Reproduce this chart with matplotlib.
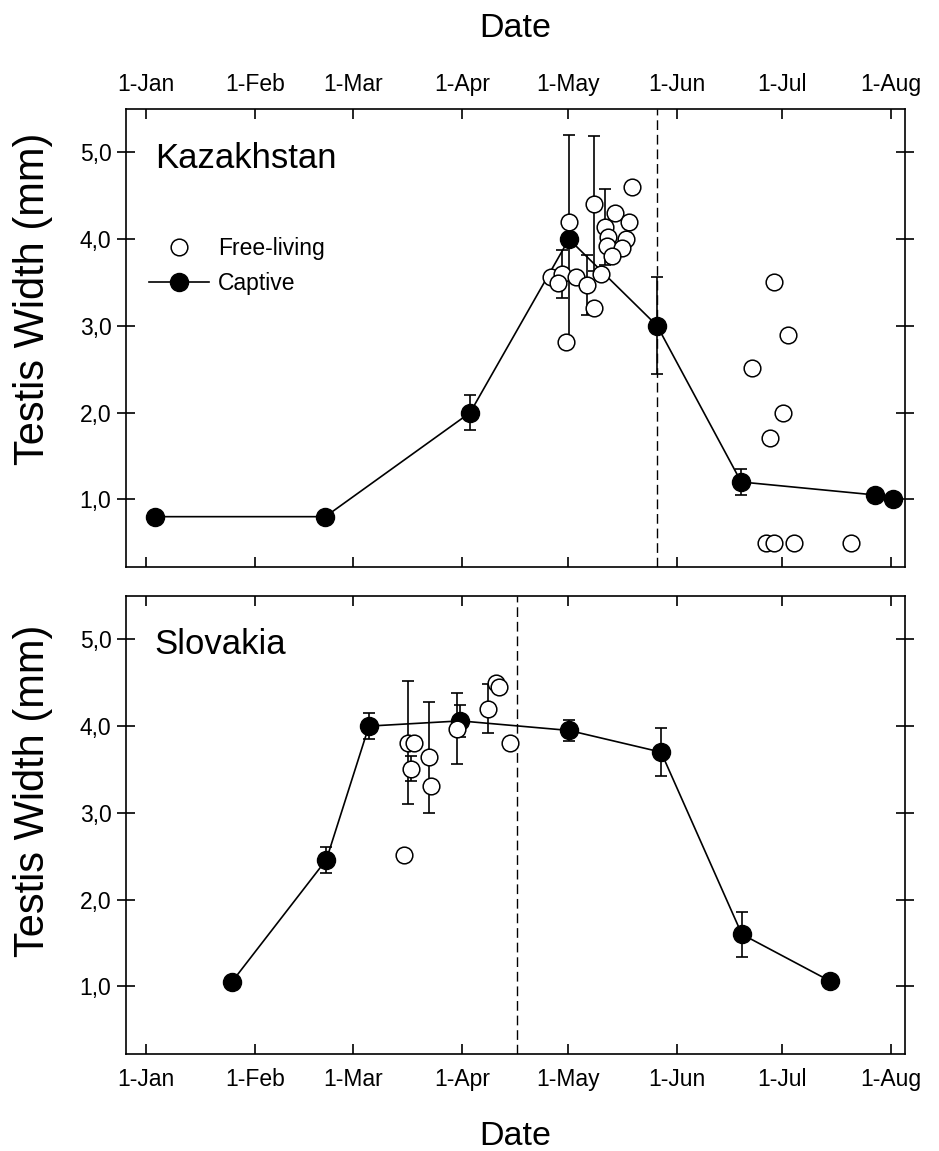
import numpy as np
import matplotlib.pyplot as plt

plt.rcParams['font.family'] = ['Liberation Sans', 'DejaVu Sans']

# days counted from 1-Jan = 0
month_days = [0, 31, 59, 90, 120, 151, 181, 212]
month_labels = ['1-Jan', '1-Feb', '1-Mar', '1-Apr', '1-May', '1-Jun', '1-Jul', '1-Aug']
y_ticks = [1, 2, 3, 4, 5]
y_labels = ['1,0', '2,0', '3,0', '4,0', '5,0']

# Kazakhstan - captive birds (mean +- error)
kz_cap_day = [2.5, 51, 92.2, 120.3, 145.4, 169.3, 207.5, 212.5]
kz_cap_w = [0.8, 0.8, 2.0, 4.0, 3.0, 1.2, 1.05, 1.0]
kz_cap_err = [0, 0, 0.2, 1.2, 0.56, 0.15, 0, 0]

# Kazakhstan - free-living birds
kz_free_day = [120.3, 127.4, 138.3, 133.4, 137.3, 130.5, 131.5, 136.4, 131.2, 135.4,
               132.6, 129.3, 115.1, 118.2, 117.3, 122.2, 125.5, 127.4, 119.4,
               178.5, 182.5, 172.3, 181.3, 177.4, 176.3, 178.5, 184.4, 200.4]
kz_free_w = [4.2, 4.41, 4.6, 4.3, 4.2, 4.14, 4.02, 4.0, 3.92, 3.9,
             3.8, 3.6, 3.56, 3.6, 3.49, 3.56, 3.47, 3.2, 2.81,
             3.5, 2.9, 2.51, 2.0, 1.71, 0.5, 0.5, 0.5, 0.5]
kz_free_err = [0, 0.78, 0, 0, 0, 0.44, 0, 0, 0, 0,
               0, 0, 0, 0.28, 0, 0, 0.35, 0, 0,
               0, 0, 0, 0, 0, 0, 0, 0, 0]
kz_cutoff = 145.4

# Slovakia - captive birds
sk_cap_day = [24.4, 51.3, 63.4, 89.4, 120.3, 146.5, 169.5, 194.6]
sk_cap_w = [1.05, 2.46, 4.0, 4.06, 3.95, 3.7, 1.6, 1.06]
sk_cap_err = [0, 0.15, 0.15, 0.18, 0.12, 0.28, 0.26, 0]

# Slovakia - free-living birds
sk_free_day = [73.5, 74.4, 76.3, 75.4, 80.6, 81.1, 88.4, 97.4, 99.5, 100.5, 103.6]
sk_free_w = [2.51, 3.81, 3.8, 3.51, 3.64, 3.31, 3.97, 4.2, 4.5, 4.45, 3.8]
sk_free_err = [0, 0.71, 0, 0.14, 0.64, 0, 0.41, 0.28, 0, 0, 0]
sk_cutoff = 105.4


def draw_panel(ax, cap_d, cap_w, cap_e, free_d, free_w, free_e, cutoff, name):
    ax.axvline(cutoff, color='black', lw=1, dashes=(7, 3.5), zorder=1)

    cap_d, cap_w, cap_e = map(np.array, (cap_d, cap_w, cap_e))
    free_d, free_w, free_e = map(np.array, (free_d, free_w, free_e))

    m = cap_e > 0
    ax.errorbar(cap_d[m], cap_w[m], yerr=cap_e[m], fmt='none', ecolor='black',
                elinewidth=1.2, capsize=4.5, capthick=1.2, zorder=2)
    ax.plot(cap_d, cap_w, '-', color='black', lw=1.2, marker='o', ms=13,
            mfc='black', mec='black', zorder=3, label='Captive')

    m = free_e > 0
    ax.errorbar(free_d[m], free_w[m], yerr=free_e[m], fmt='none', ecolor='black',
                elinewidth=1.2, capsize=4.5, capthick=1.2, zorder=3.5)
    ax.plot(free_d, free_w, 'o', ms=12, mfc='white', mec='black', mew=1.1,
            zorder=4, label='Free-living')

    ax.text(0.037, 0.893, name, transform=ax.transAxes, fontsize=25,
            ha='left', va='center')

    ax.set_xlim(-5.7, 215.9)
    ax.set_ylim(0.22, 5.5)
    ax.set_xticks(month_days)
    ax.set_xticklabels(month_labels)
    ax.set_yticks(y_ticks)
    ax.set_yticklabels(y_labels)
    ax.set_ylabel('Testis Width (mm)', fontsize=30, labelpad=19)
    ax.yaxis.label.set_y(0.585)
    for s in ax.spines.values():
        s.set_linewidth(1.2)
    ax.tick_params(axis='y', which='both', direction='inout', length=13,
                   width=1.2, right=True, labelsize=16.5, pad=4)


fig = plt.figure(figsize=(9.39, 11.51), dpi=100)
ax1 = fig.add_axes([0.1342, 0.5074, 0.8296, 0.3979])
ax2 = fig.add_axes([0.1342, 0.0843, 0.8296, 0.3979])

draw_panel(ax1, kz_cap_day, kz_cap_w, kz_cap_err,
           kz_free_day, kz_free_w, kz_free_err, kz_cutoff, 'Kazakhstan')
draw_panel(ax2, sk_cap_day, sk_cap_w, sk_cap_err,
           sk_free_day, sk_free_w, sk_free_err, sk_cutoff, 'Slovakia')
ax2.yaxis.label.set_y(0.575)

# top panel: date axis on top
ax1.xaxis.set_ticks_position('both')
ax1.tick_params(axis='x', top=True, bottom=True, labeltop=True, labelbottom=False,
                direction='in', length=7, width=1.2, labelsize=16.5, pad=9)
ax1.xaxis.set_label_position('top')
ax1.set_xlabel('Date', fontsize=24.5, labelpad=26)

# bottom panel: date axis at bottom
ax2.tick_params(axis='x', top=True, bottom=True, labeltop=False, labelbottom=True,
                direction='in', length=7, width=1.2, labelsize=16.5, pad=10)
ax2.set_xlabel('Date', fontsize=24.5, labelpad=22)

h, l = ax1.get_legend_handles_labels()
ax1.legend(h[::-1], l[::-1], loc='upper left', bbox_to_anchor=(0.03, 0.72),
           frameon=False, fontsize=16.5, handlelength=2.6, handletextpad=0.4,
           borderpad=0, borderaxespad=0, labelspacing=0.5, numpoints=1)

fig.savefig('out.png', dpi=100)
